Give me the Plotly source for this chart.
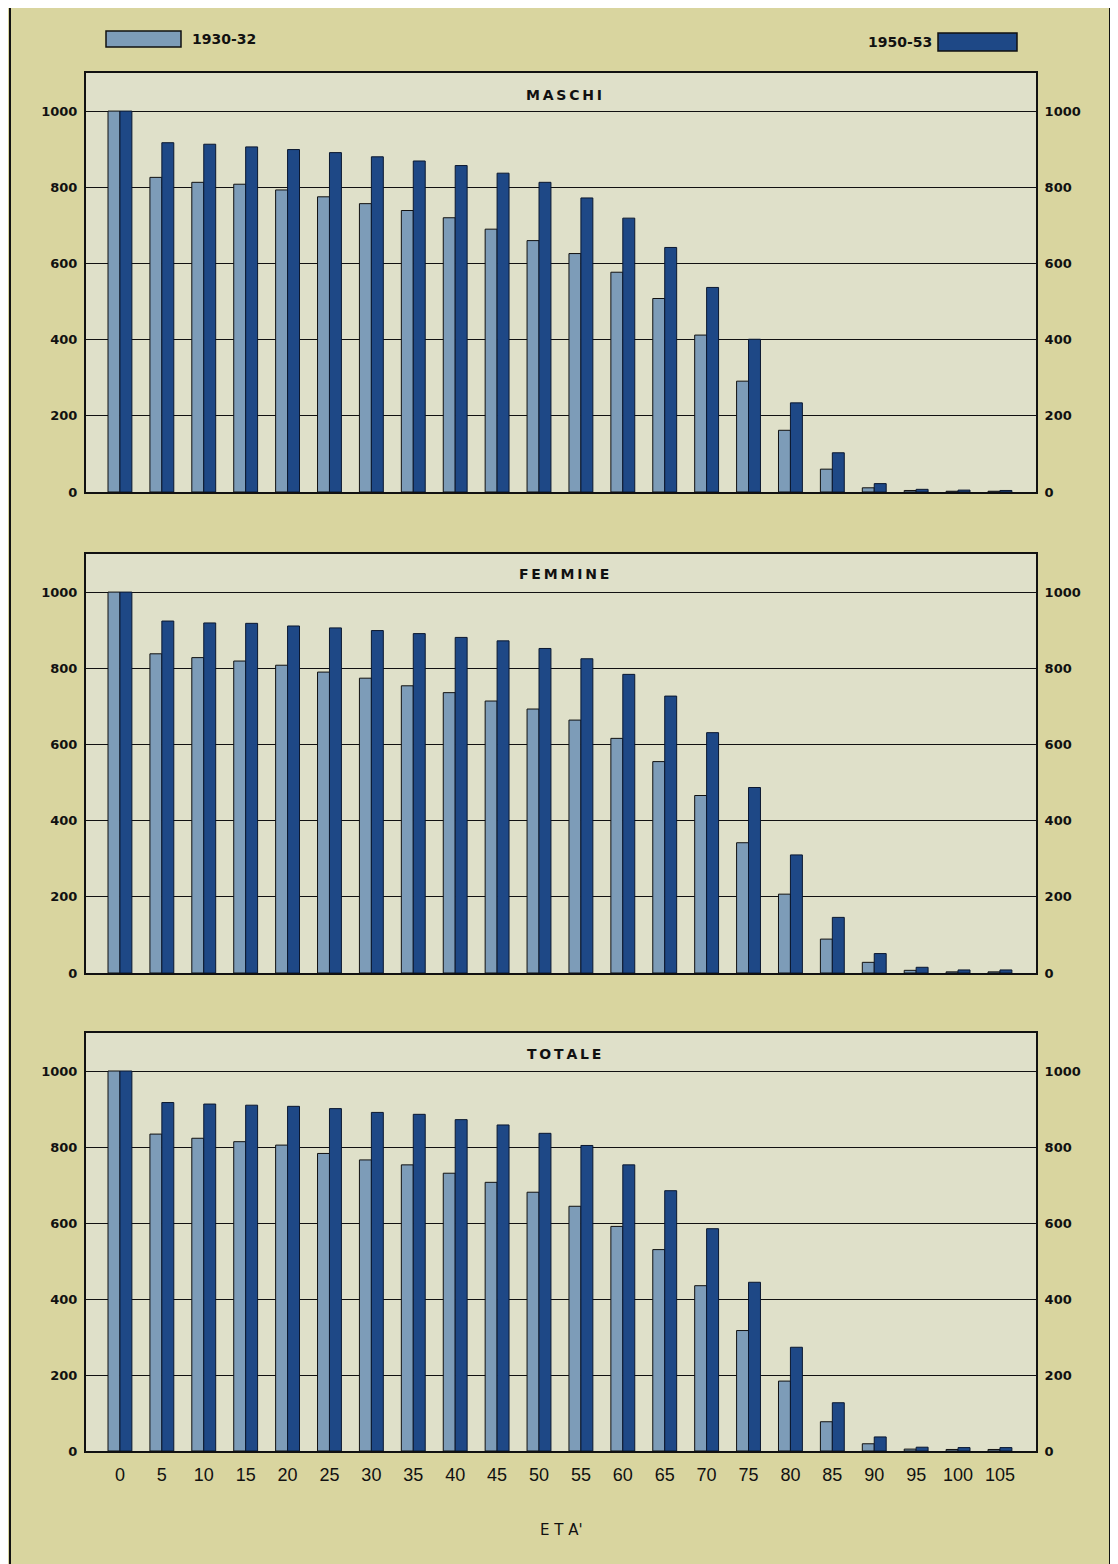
import plotly.graph_objects as go

# ---------------- data ----------------
ages = [0, 5, 10, 15, 20, 25, 30, 35, 40, 45, 50, 55, 60, 65, 70, 75, 80, 85, 90, 95, 100, 105]
age_labels = [str(a) for a in ages]

maschi_1930 = [1000, 826, 813, 808, 793, 775, 757, 739, 720, 690, 660, 626, 577, 508, 412, 291, 162, 60, 11, 4, 2, 2]
maschi_1950 = [1000, 917, 913, 906, 899, 891, 880, 869, 857, 837, 813, 772, 719, 642, 537, 401, 234, 103, 22, 7, 5, 4]
femmine_1930 = [1000, 838, 828, 819, 808, 790, 774, 754, 736, 714, 693, 664, 616, 555, 466, 342, 207, 89, 28, 7, 3, 3]
femmine_1950 = [1000, 924, 919, 918, 911, 906, 899, 891, 881, 872, 852, 825, 784, 727, 631, 487, 310, 146, 51, 15, 8, 8]
totale_1930 = [1000, 834, 823, 814, 805, 783, 766, 753, 731, 707, 681, 644, 591, 530, 435, 317, 184, 77, 19, 5, 4, 4]
totale_1950 = [1000, 917, 913, 910, 907, 901, 891, 886, 872, 858, 836, 804, 753, 685, 585, 444, 273, 127, 37, 10, 9, 9]

panel_titles = ["MASCHI", "FEMMINE", "TOTALE"]
series_names = ["1930-32", "1950-53"]
y_ticks = [0, 200, 400, 600, 800, 1000]

# ---------------- style ----------------
LIGHT = "#7d9cb8"
DARK = "#1e4886"
PAPER = "#d9d59f"
PLOT = "#dfe0c9"
INK = "#111111"

OFF = 8  # page body margin
W, H = 1118 - OFF, 1564 - OFF
ML, MR, MT, MB = 86 - OFF, 1118 - 1036, 73 - OFF, 1564 - 1451
PW, PH = W - ML - MR, H - MT - MB


def px_x(p):
    return (p - OFF - ML) / PW


def px_y(p):
    return (H - MB - (p - OFF)) / PH


domains = [
    [px_y(492), px_y(73)],
    [px_y(973), px_y(554)],
    [0.0, px_y(1033)],
]

fig = go.Figure()
panels = [
    (maschi_1930, maschi_1950),
    (femmine_1930, femmine_1950),
    (totale_1930, totale_1950),
]
for i, (old, new) in enumerate(panels):
    xa = "x" if i == 0 else f"x{i+1}"
    ya = "y" if i == 0 else f"y{i+1}"
    fig.add_trace(go.Bar(x=age_labels, y=old, name=series_names[0], xaxis=xa, yaxis=ya,
                         marker=dict(color=LIGHT, line=dict(color=INK, width=1)),
                         showlegend=False, offsetgroup="a"))
    fig.add_trace(go.Bar(x=age_labels, y=new, name=series_names[1], xaxis=xa, yaxis=ya,
                         marker=dict(color=DARK, line=dict(color="#0b1830", width=1)),
                         showlegend=False, offsetgroup="b"))

layout = dict(
    width=W, height=H,
    margin=dict(l=ML, r=MR, t=MT, b=MB),
    paper_bgcolor=PAPER, plot_bgcolor=PLOT,
    barmode="group", bargap=0.43, bargroupgap=0.0,
    font=dict(family="DejaVu Sans", color=INK),
)

ytext = ["<b>%d</b>" % v for v in y_ticks]
xr = [-0.81, 21.86]
for i in range(3):
    xkey = "xaxis" if i == 0 else f"xaxis{i+1}"
    ykey = "yaxis" if i == 0 else f"yaxis{i+1}"
    yname = "y" if i == 0 else f"y{i+1}"
    xname = "x" if i == 0 else f"x{i+1}"
    layout[xkey] = dict(
        type="category", categoryorder="array", categoryarray=age_labels,
        range=xr, anchor=yname, domain=[0, 1],
        showline=True, linecolor=INK, linewidth=2, mirror=True,
        showgrid=False, zeroline=False,
        showticklabels=(i == 2),
        ticks="outside" if i == 2 else "", ticklen=6, tickcolor=PAPER,
        tickfont=dict(family="Liberation Sans", size=18, color=INK),
    )
    layout[ykey] = dict(
        domain=domains[i], anchor=xname, range=[0, 1100],
        tickvals=y_ticks, ticktext=ytext,
        showline=True, linecolor=INK, linewidth=2,
        showgrid=True, gridcolor=INK, gridwidth=1, zeroline=False,
        ticks="outside", ticklen=4, tickcolor=PAPER,
        tickfont=dict(family="DejaVu Sans", size=13, color=INK),
    )
    rkey = f"yaxis{i+4}"
    layout[rkey] = dict(
        overlaying=yname, side="right", anchor=xname, range=[0, 1100],
        tickvals=y_ticks, ticktext=ytext,
        showline=True, linecolor=INK, linewidth=2,
        showgrid=False, zeroline=False,
        ticks="outside", ticklen=4, tickcolor=PAPER,
        tickfont=dict(family="DejaVu Sans", size=13, color=INK),
    )

fig.update_layout(**layout)

# invisible traces so the right-hand axes are drawn
for i in range(3):
    xname = "x" if i == 0 else f"x{i+1}"
    fig.add_trace(go.Scatter(x=[age_labels[0]], y=[0], xaxis=xname, yaxis=f"y{i+4}",
                             mode="markers", marker=dict(opacity=0), hoverinfo="skip",
                             showlegend=False))

# panel titles
title_y = [px_y(95), px_y(574), px_y(1054)]
for t, ty in zip(panel_titles, title_y):
    fig.add_annotation(text="<b>" + "\u2009".join(t) + "</b>", x=px_x(564), y=ty, xref="paper", yref="paper",
                       showarrow=False, font=dict(family="DejaVu Sans", size=14, color=INK),
                       xanchor="center", yanchor="middle")

# x axis title
fig.add_annotation(text="E T A'", x=px_x(561), y=px_y(1530), xref="paper", yref="paper",
                   showarrow=False, font=dict(family="DejaVu Sans", size=15, color=INK),
                   xanchor="center", yanchor="middle")

# legend (drawn manually to match the original placement)
fig.add_shape(type="rect", xref="paper", yref="paper",
              x0=px_x(106), x1=px_x(181), y0=px_y(47), y1=px_y(31),
              fillcolor=LIGHT, line=dict(color=INK, width=1.5))
fig.add_annotation(text="<b>" + series_names[0] + "</b>", x=px_x(190), y=px_y(39), xref="paper", yref="paper",
                   showarrow=False, xanchor="left", yanchor="middle",
                   font=dict(family="DejaVu Sans", size=14, color=INK))
fig.add_shape(type="rect", xref="paper", yref="paper",
              x0=px_x(938), x1=px_x(1017), y0=px_y(51), y1=px_y(33),
              fillcolor=DARK, line=dict(color=INK, width=1.5))
fig.add_annotation(text="<b>" + series_names[1] + "</b>", x=px_x(934), y=px_y(42), xref="paper", yref="paper",
                   showarrow=False, xanchor="right", yanchor="middle",
                   font=dict(family="DejaVu Sans", size=14, color=INK))

# outer frame of the sheet
fig.add_shape(type="rect", xref="paper", yref="paper",
              x0=px_x(10), x1=px_x(1110), y0=px_y(1600), y1=px_y(5),
              fillcolor="rgba(0,0,0,0)", line=dict(color=INK, width=2), layer="below")

fig.write_html("out.html")
